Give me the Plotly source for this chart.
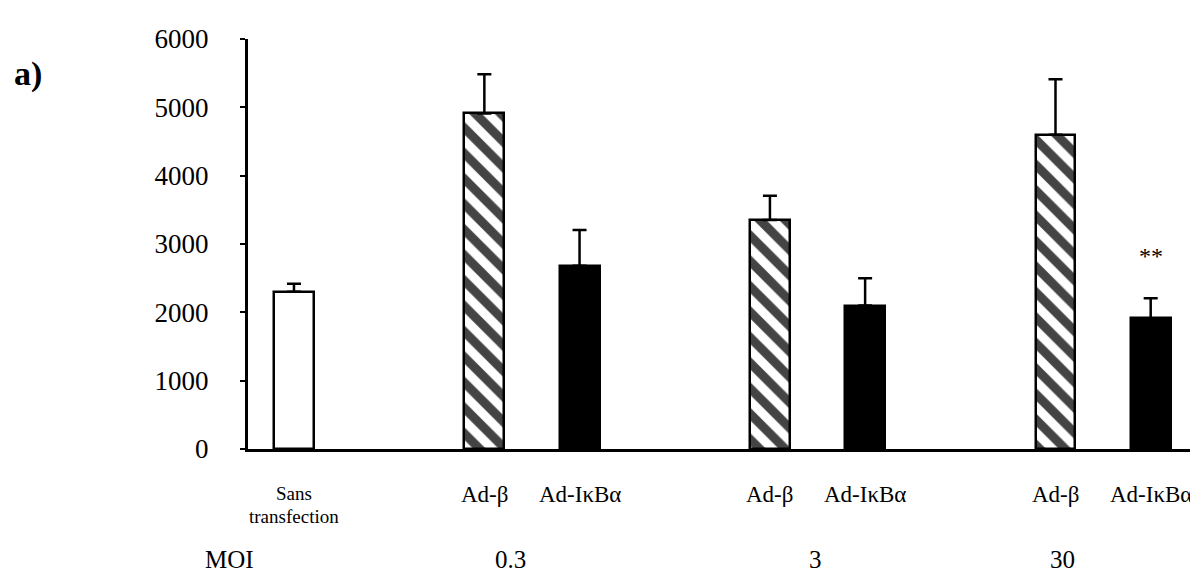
import plotly.graph_objects as go

# data
groups = ["", "0.3", "0.3", "3", "3", "30", "30"]
labels = ["Sans transfection", "Ad-β", "Ad-IκBα", "Ad-β", "Ad-IκBα", "Ad-β", "Ad-IκBα"]
values = [2300, 4910, 2680, 3350, 2100, 4600, 1910]
errors = [120, 575, 525, 355, 400, 810, 295]
kinds = ["none", "beta", "ikb", "beta", "ikb", "beta", "ikb"]
moi_labels = ["0.3", "3", "30"]
signif = ["", "", "", "", "", "", "**"]
y_ticks = [0, 1000, 2000, 3000, 4000, 5000, 6000]

FONT = "Liberation Serif"

# slot on the x axis: control alone, then pairs separated by an empty slot
moi_order = sorted(set(g for g in groups if g), key=float)
xpos = []
for i, g in enumerate(groups):
    if g == "":
        xpos.append(0)
    else:
        gi = moi_order.index(g) + 1
        first = groups.index(g)
        xpos.append(3 * gi - 1 + (i - first))

fill = {"none": "white", "beta": "white", "ikb": "black"}
shape = {"none": "", "beta": "\\", "ikb": ""}

fig = go.Figure()
fig.add_trace(go.Bar(
    x=xpos, y=values, width=0.42,
    marker=dict(
        color=[fill[k] for k in kinds],
        line=dict(color="black", width=2.5),
        pattern=dict(shape=[shape[k] for k in kinds], fgcolor="black",
                     bgcolor="white", fgopacity=1, size=18, solidity=0.5),
    ),
    error_y=dict(type="data", array=errors, arrayminus=[0] * len(errors),
                 symmetric=False, color="black", thickness=2.5, width=7),
    showlegend=False,
))

# category labels under the bars
for x, lab in zip(xpos, labels):
    if lab == "Sans transfection":
        for txt, sh in (("Sans", -44), ("transfection", -67)):
            fig.add_annotation(x=x, y=0, xref="x", yref="paper", text=txt,
                               showarrow=False, yanchor="middle", yshift=sh,
                               font=dict(family=FONT, size=19, color="black"))
    else:
        fig.add_annotation(x=x, y=0, xref="x", yref="paper", text=lab,
                           showarrow=False, yanchor="middle", yshift=-45,
                           font=dict(family=FONT, size=23, color="black"))

# MOI row
fig.add_annotation(x=-0.047, y=0, xref="paper", yref="paper", text="MOI",
                   showarrow=False, yanchor="middle", yshift=-110,
                   font=dict(family=FONT, size=25, color="black"))
for mx, m in zip([2.27, 5.48, 8.07], moi_labels):
    fig.add_annotation(x=mx, y=0, xref="x", yref="paper", text=m,
                       showarrow=False, yanchor="middle", yshift=-110,
                       font=dict(family=FONT, size=25, color="black"))

# significance stars
for x, v, e, s in zip(xpos, values, errors, signif):
    if s:
        fig.add_annotation(x=x, y=v + e, text=s, showarrow=False,
                           yanchor="middle", yshift=42,
                           font=dict(family=FONT, size=24, color="black"))

# panel letter
fig.add_annotation(x=-0.23, y=0.914, xref="paper", yref="paper", text="<b>a)</b>",
                   showarrow=False, xanchor="center", yanchor="middle",
                   font=dict(family=FONT, size=34, color="black"))

fig.update_xaxes(range=[-0.483, 9.56], showline=True, linecolor="black",
                 linewidth=3, showgrid=False, zeroline=False,
                 showticklabels=False, ticks="")
fig.update_yaxes(range=[0, 6000], tickvals=y_ticks, showline=True,
                 linecolor="black", linewidth=3, ticks="outside",
                 ticklen=5, tickwidth=2, tickcolor="black", showgrid=False,
                 zeroline=False, ticklabelstandoff=26,
                 tickfont=dict(family=FONT, size=27, color="black"))

fig.update_layout(width=1198, height=576,
                  margin=dict(l=240, r=2, t=31, b=135),
                  plot_bgcolor="white", paper_bgcolor="white",
                  font=dict(family=FONT, color="black"), bargap=0)

fig.write_html("out.html")
